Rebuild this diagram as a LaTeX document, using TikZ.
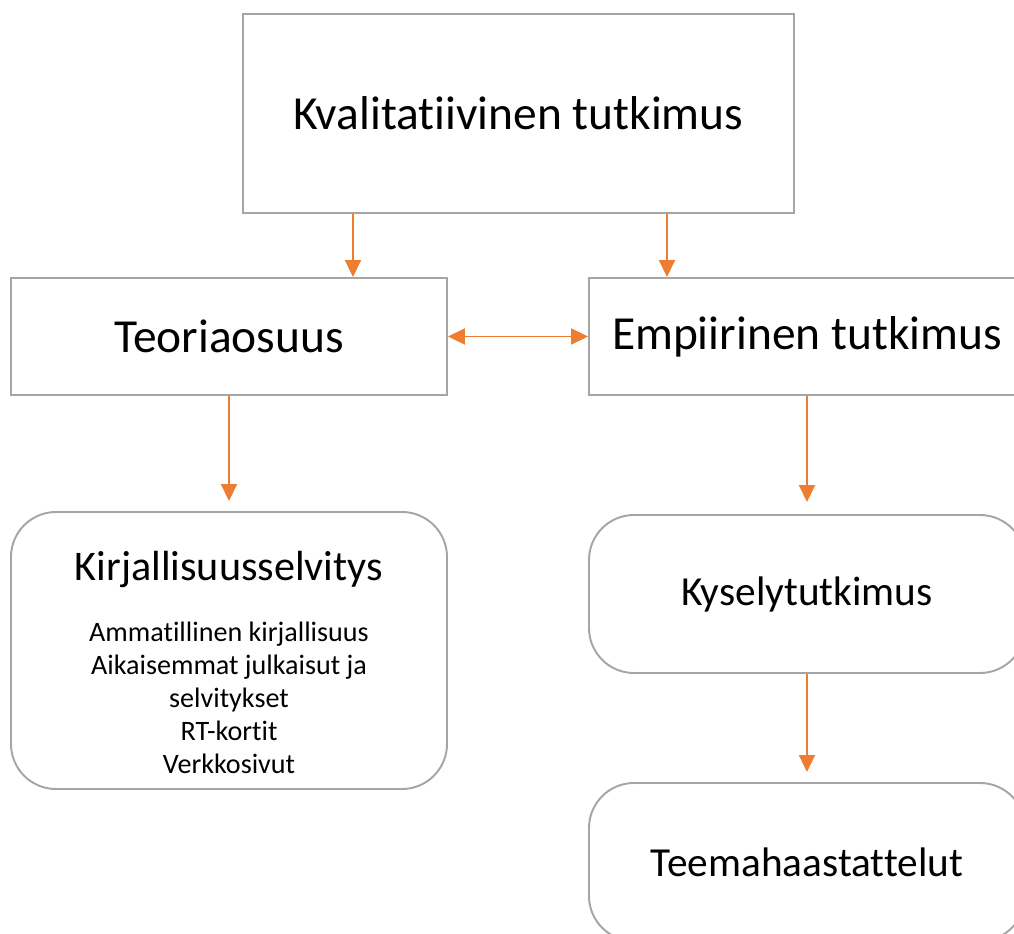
\documentclass[tikz,border=0pt]{standalone}
\usepackage{fontspec}
\setmainfont{Carlito}[RawFeature=-liga]
\usetikzlibrary{arrows.meta}
\definecolor{boxgray}{HTML}{A5A5A5}
\definecolor{arroworange}{HTML}{ED7D31}
\begin{document}
\begin{tikzpicture}[>={Triangle[length=0.34cm,width=0.32cm]},
  every node/.style={draw=boxgray, line width=1.1pt, align=center, inner sep=0pt},
  sqbox/.style={rectangle, minimum width=8.72cm},
  rbox/.style={rectangle, rounded corners=0.9cm, minimum width=8.72cm},
  link/.style={arroworange, line width=1.1pt}]
\useasboundingbox (0,0) rectangle (20.28,-18.68);
\node[rectangle, minimum width=11.02cm, minimum height=3.98cm, font=\fontsize{27}{32}\selectfont] (kval) at (10.37,-2.27) {Kvalitatiivinen tutkimus};
\node[sqbox, minimum height=2.34cm, font=\fontsize{27}{32}\selectfont] (teoria) at (4.58,-6.73) {Teoriaosuus};
\node[sqbox, minimum height=2.34cm, font=\fontsize{27}{32}\selectfont] (empiir) at (16.14,-6.73) {Empiirinen tutkimus};
\node[rbox, minimum height=5.54cm, font=\fontsize{16}{18.8}\selectfont] (kirj) at (4.58,-13.01) {{\fontsize{24}{28}\selectfont\rule{0pt}{1.07cm}Kirjallisuusselvitys}\\[0.56cm]
  Ammatillinen kirjallisuus\\Aikaisemmat julkaisut ja\\selvitykset\\RT-kortit\\Verkkosivut};
\node[rbox, minimum height=3.16cm, font=\fontsize{23.5}{28}\selectfont] (kysely) at (16.14,-11.88) {Kyselytutkimus};
\node[rbox, minimum height=3.16cm, font=\fontsize{23.5}{28}\selectfont] (teema) at (16.14,-17.24) {Teemahaastattelut};
\draw[link,->] (7.06,0 |- kval.south) -- (7.06,0 |- teoria.north);
\draw[link,->] (13.34,0 |- kval.south) -- (13.34,0 |- empiir.north);
\draw[link,<->] (teoria) -- (empiir);
\draw[link,->,shorten >=0.2cm] (teoria) -- (kirj);
\draw[link,->,shorten >=0.24cm] (empiir) -- (kysely);
\draw[link,->,shorten >=0.2cm] (kysely) -- (teema);
\end{tikzpicture}
\end{document}
